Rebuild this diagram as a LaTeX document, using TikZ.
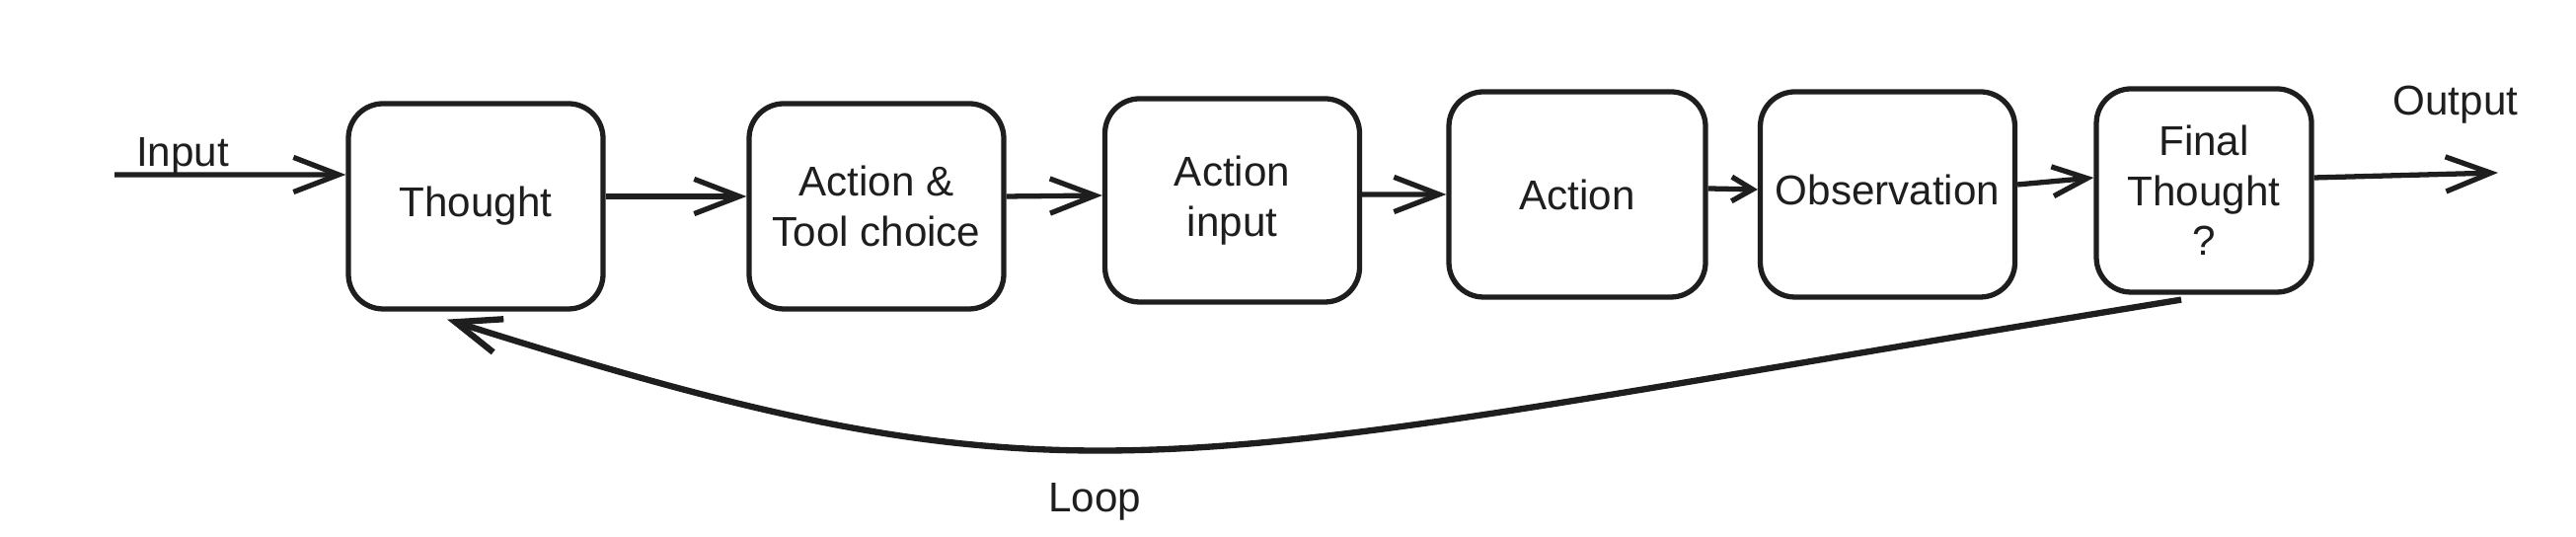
\documentclass[tikz,border=0pt]{standalone}
\usepackage{fontspec}
\setmainfont{Liberation Sans}
\usepackage{tikz}
\usetikzlibrary{arrows.meta}
\definecolor{ink}{RGB}{30, 30, 30}
\tikzset{
  stage/.style={draw=ink,line width=1.5pt,rounded corners=10pt,minimum width=2.58cm,minimum height=2.08cm,align=center,inner sep=1pt,font=\fontsize{12}{14.4}\selectfont,text=ink},
  flow/.style={ink,line width=1.5pt,-{Straight Barb[length=13pt,width=10pt]}},
  tag/.style={font=\fontsize{12}{14.4}\selectfont,text=ink}
}

\begin{document}
\begin{tikzpicture}
\useasboundingbox (0,0) rectangle (26.1,5.44);
\node[stage] (think) at (4.82,3.35) {Thought};
\node[stage] (tool) at (8.88,3.35) {Action \&\\Tool choice};
\node[stage,minimum height=2.06cm] (actin) at (12.485,3.41) {Action\\input};
\node[stage,minimum width=2.6cm] (act) at (15.98,3.47) {Action};
\node[stage] (obs) at (19.125,3.47) {\raisebox{1mm}{Observation}};
\node[stage,minimum width=2.18cm,minimum height=2.06cm] (final) at (22.33,3.51) {Final\\Thought\\?};
\coordinate (in) at (1.16,3.67);
\coordinate (out) at (25.31,3.69);
\node[tag] (inlbl) at (1.85,3.86) {Input};
\node[tag] (outlbl) at (24.88,4.38) {Output};
\node[tag] (looplbl) at (11.09,0.36) {Loop};
\draw[flow] (in) -- ([yshift=3.2mm]think.west);
\draw[flow] ([yshift=1mm]think.east) -- ([yshift=1mm]tool.west);
\draw[flow] ([yshift=1mm]tool.east) -- ([yshift=0.5mm]actin.west);
\draw[flow] ([yshift=0.6mm]actin.east) -- (act.west);
\draw[flow,-{Straight Barb[length=6pt,width=7pt]}] ([yshift=0.6mm]act.east) -- ([yshift=0.5mm]obs.west);
\draw[flow,-{Straight Barb[length=10pt,width=8.5pt]}] ([yshift=1mm]obs.east) -- ([yshift=1.3mm]final.west);
\draw[flow] ([yshift=1.3mm]final.east) -- (out);
\draw[flow,line width=1.8pt] ([xshift=-2.3mm,yshift=-0.5mm]final.south) .. controls (11.6,0.70) and (11.03,0.15) .. ([xshift=-2.9mm,yshift=-0.8mm]think.south);
\end{tikzpicture}
\end{document}
